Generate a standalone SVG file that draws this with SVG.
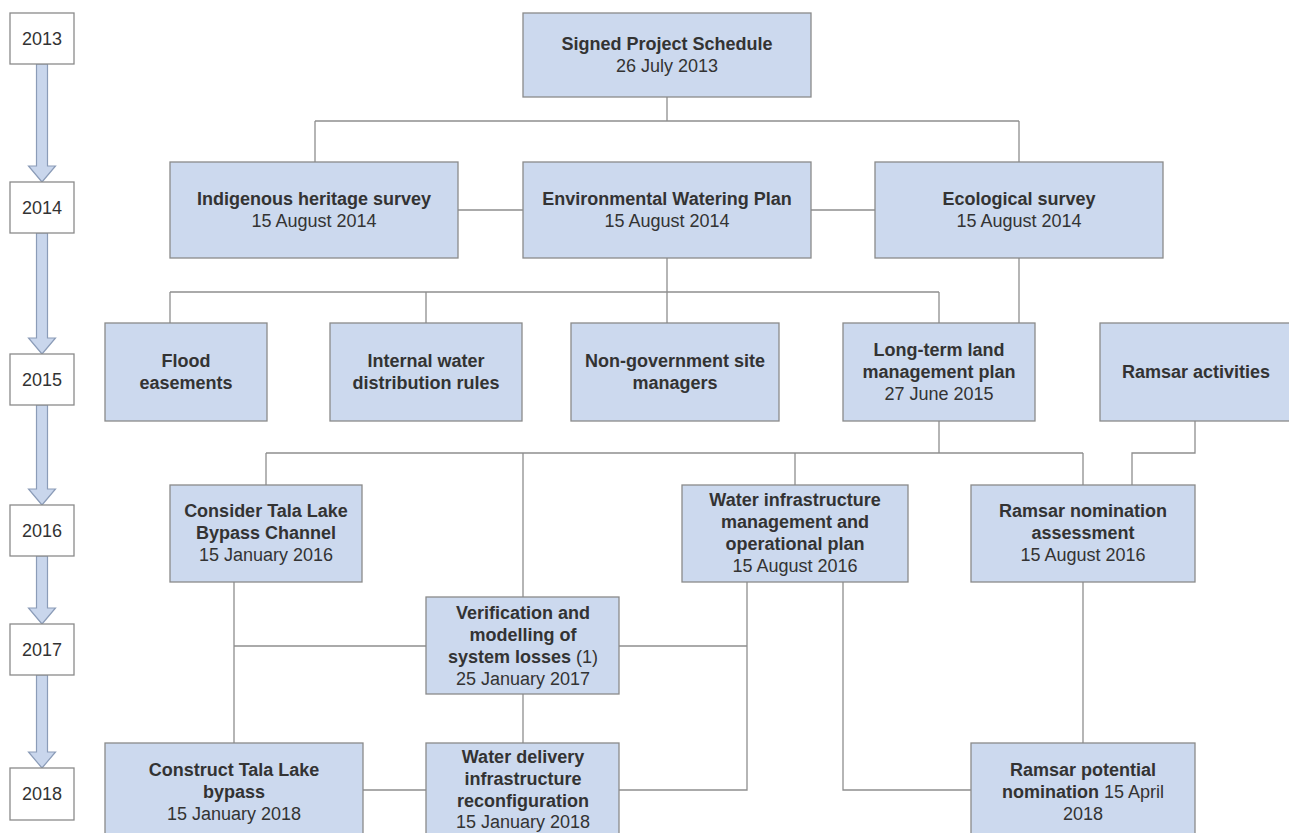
<svg xmlns="http://www.w3.org/2000/svg" width="1289" height="833" viewBox="0 0 1289 833">
<style>
.n{fill:#ccd9ee;stroke:#8a8a8a;stroke-width:1.3}
.y{fill:#ffffff;stroke:#8a8a8a;stroke-width:1.3}
.ar{fill:#c9d6ec;stroke:#8b9cb8;stroke-width:1.2}
.c{fill:none;stroke:#8e8e8e;stroke-width:1.3}
text{font-family:"Liberation Sans",Arial,sans-serif;font-size:18px;fill:#333333;text-anchor:middle}
.b{font-weight:bold}
</style>
<rect width="1289" height="833" fill="#ffffff"/>
<g id="years">
<g id="arrows">
<path class="ar" d="M36.5,64 H47.5 V166 H55.5 L42,182 L28.5,166 H36.5 Z"/>
<path class="ar" d="M36.5,233 H47.5 V338 H55.5 L42,354 L28.5,338 H36.5 Z"/>
<path class="ar" d="M36.5,405 H47.5 V489 H55.5 L42,505 L28.5,489 H36.5 Z"/>
<path class="ar" d="M36.5,556 H47.5 V608 H55.5 L42,624 L28.5,608 H36.5 Z"/>
<path class="ar" d="M36.5,675 H47.5 V752 H55.5 L42,768 L28.5,752 H36.5 Z"/>
</g>
<g id="y2013"><rect class="y" x="10" y="13" width="64" height="51"/><text x="42" y="45">2013</text></g>
<g id="y2014"><rect class="y" x="10" y="182" width="64" height="51"/><text x="42" y="214">2014</text></g>
<g id="y2015"><rect class="y" x="10" y="354" width="64" height="51"/><text x="42" y="386">2015</text></g>
<g id="y2016"><rect class="y" x="10" y="505" width="64" height="51"/><text x="42" y="537">2016</text></g>
<g id="y2017"><rect class="y" x="10" y="624" width="64" height="51"/><text x="42" y="656">2017</text></g>
<g id="y2018"><rect class="y" x="10" y="768" width="64" height="52"/><text x="42" y="800">2018</text></g>
</g>
<g id="connectors">
<path class="c" d="M667,97 V121 M315,121 H1019 M315,121 V162 M1019,121 V162"/>
<path class="c" d="M458,210 H523 M811,210 H875"/>
<path class="c" d="M667,258 V323 M170,292 H939 M170,292 V323 M426,292 V323 M939,292 V323"/>
<path class="c" d="M1019,258 V323"/>
<path class="c" d="M939,421 V453 M266,453 H1083 M266,453 V485 M523,453 V597 M795,453 V485 M1083,453 V485"/>
<path class="c" d="M1195,421 V453 H1132 V485"/>
<path class="c" d="M234,582 V743 M234,646 H426 M619,646 H747"/>
<path class="c" d="M747,582 V790 H619 M843,582 V790 H971"/>
<path class="c" d="M523,694 V743"/>
<path class="c" d="M363,790 H426"/>
<path class="c" d="M1083,582 V743"/>
</g>
<g id="signed"><rect class="n" x="523" y="13" width="288" height="84"/><text class="b" x="667" y="50">Signed Project Schedule</text><text x="667" y="72">26 July 2013</text></g>
<g id="indigenous"><rect class="n" x="170" y="162" width="288" height="96"/><text class="b" x="314" y="205">Indigenous heritage survey</text><text x="314" y="227">15 August 2014</text></g>
<g id="ewp"><rect class="n" x="523" y="162" width="288" height="96"/><text class="b" x="667" y="205">Environmental Watering Plan</text><text x="667" y="227">15 August 2014</text></g>
<g id="ecological"><rect class="n" x="875" y="162" width="288" height="96"/><text class="b" x="1019" y="205">Ecological survey</text><text x="1019" y="227">15 August 2014</text></g>
<g id="flood"><rect class="n" x="105" y="323" width="162" height="98"/><text class="b" x="186" y="367">Flood</text><text class="b" x="186" y="389">easements</text></g>
<g id="internal"><rect class="n" x="330" y="323" width="192" height="98"/><text class="b" x="426" y="367">Internal water</text><text class="b" x="426" y="389">distribution rules</text></g>
<g id="nongov"><rect class="n" x="571" y="323" width="208" height="98"/><text class="b" x="675" y="367">Non-government site</text><text class="b" x="675" y="389">managers</text></g>
<g id="longterm"><rect class="n" x="843" y="323" width="192" height="98"/><text class="b" x="939" y="356">Long-term land</text><text class="b" x="939" y="378">management plan</text><text x="939" y="400">27 June 2015</text></g>
<g id="ramsaract"><rect class="n" x="1100" y="323" width="192" height="98"/><text class="b" x="1196" y="378">Ramsar activities</text></g>
<g id="consider"><rect class="n" x="170" y="485" width="192" height="97"/><text class="b" x="266" y="517">Consider Tala Lake</text><text class="b" x="266" y="539">Bypass Channel</text><text x="266" y="561">15 January 2016</text></g>
<g id="waterinfra"><rect class="n" x="682" y="485" width="226" height="97"/><text class="b" x="795" y="506">Water infrastructure</text><text class="b" x="795" y="528">management and</text><text class="b" x="795" y="550">operational plan</text><text x="795" y="572">15 August 2016</text></g>
<g id="ramsarnom"><rect class="n" x="971" y="485" width="224" height="97"/><text class="b" x="1083" y="517">Ramsar nomination</text><text class="b" x="1083" y="539">assessment</text><text x="1083" y="561">15 August 2016</text></g>
<g id="verification"><rect class="n" x="426" y="597" width="193" height="97"/><text class="b" x="523" y="619">Verification and</text><text class="b" x="523" y="641">modelling of</text><text x="523" y="663"><tspan class="b">system losses</tspan> (1)</text><text x="523" y="685">25 January 2017</text></g>
<g id="construct"><rect class="n" x="105" y="743" width="258" height="97"/><text class="b" x="234" y="776">Construct Tala Lake</text><text class="b" x="234" y="798">bypass</text><text x="234" y="820">15 January 2018</text></g>
<g id="waterdelivery"><rect class="n" x="426" y="743" width="193" height="97"/><text class="b" x="523" y="763">Water delivery</text><text class="b" x="523" y="785">infrastructure</text><text class="b" x="523" y="807">reconfiguration</text><text x="523" y="828">15 January 2018</text></g>
<g id="ramsarpot"><rect class="n" x="971" y="743" width="224" height="97"/><text class="b" x="1083" y="776">Ramsar potential</text><text x="1083" y="798"><tspan class="b">nomination</tspan> 15 April</text><text x="1083" y="820">2018</text></g>
</svg>
